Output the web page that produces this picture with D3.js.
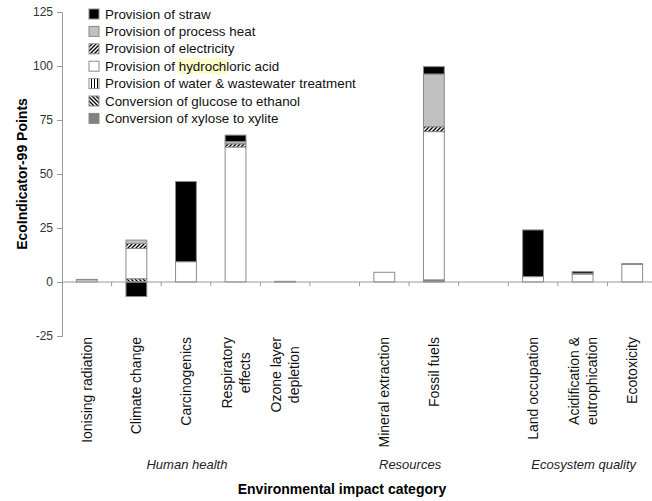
<!DOCTYPE html>
<html>
<head>
<meta charset="utf-8">
<script src="https://cdn.jsdelivr.net/npm/d3@7"></script>
<style>
  body { margin: 0; background: #fff; }
  text { font-family: "Liberation Sans", Arial, sans-serif; }
</style>
</head>
<body>
<svg id="chart" width="652" height="501"></svg>
<script>
// categories (blank entries are the gaps between groups)
const categories = ['Ionising radiation', 'Climate change', 'Carcinogenics', 'Respiratory effects',
    'Ozone layer depletion', 'gap1', 'Mineral extraction', 'Fossil fuels', 'gap2',
    'Land occupation', 'Acidification & eutrophication', 'Ecotoxicity'];
const labelLines = [['Ionising radiation'], ['Climate change'], ['Carcinogenics'], ['Respiratory', 'effects'],
    ['Ozone layer', 'depletion'], [], ['Mineral extraction'], ['Fossil fuels'], [],
    ['Land occupation'], ['Acidification &', 'eutrophication'], ['Ecotoxicity']];
const groups = [
    {name: 'Human health', from: 'Ionising radiation', to: 'Ozone layer depletion'},
    {name: 'Resources', from: 'Mineral extraction', to: 'Fossil fuels'},
    {name: 'Ecosystem quality', from: 'Land occupation', to: 'Ecotoxicity'}
];

// series values, one per category
const straw       = [0, -6.7, 37.1, 3.0, 0, 0, 0, 3.4, 0, 21.6, 0.8, 0];
const heat        = [0, 1.5, 0, 1.0, 0.2, 0, 0, 24.4, 0, 0, 0, 0];
const electricity = [0.2, 2.3, 0, 1.5, 0, 0, 0, 2.3, 0, 0, 0.3, 0.3];
const hcl         = [1.0, 14.1, 9.4, 62.5, 0.1, 0, 4.5, 68.6, 0, 2.5, 3.7, 8.2];
const water       = [0, 0, 0, 0, 0, 0, 0, 0, 0, 0, 0, 0];
const glucose     = [0, 1.5, 0, 0, 0, 0, 0, 0, 0, 0, 0, 0];
const xylose      = [0, 0, 0, 0, 0, 0, 0, 1.0, 0, 0, 0, 0];

const series = [
    {key: 'straw', label: 'Provision of straw', values: straw, fill: '#000'},
    {key: 'heat', label: 'Provision of process heat', values: heat, fill: '#c0c0c0'},
    {key: 'electricity', label: 'Provision of electricity', values: electricity, fill: 'url(#hatchFwd)'},
    {key: 'hcl', label: 'Provision of hydrochloric acid', values: hcl, fill: '#fff'},
    {key: 'water', label: 'Provision of water & wastewater treatment', values: water, fill: 'url(#hatchVert)'},
    {key: 'glucose', label: 'Conversion of glucose to ethanol', values: glucose, fill: 'url(#hatchBack)'},
    {key: 'xylose', label: 'Conversion of xylose to xylite', values: xylose, fill: '#808080'}
];
const yTicks = [-25, 0, 25, 50, 75, 100, 125];

const svg = d3.select('#chart');
const axisColor = '#999';

// patterns for the hatched series
const defs = svg.append('defs');
function hatch(id, d, w, size) {
    const p = defs.append('pattern').attr('id', id)
        .attr('patternUnits', 'userSpaceOnUse').attr('width', size).attr('height', size);
    p.append('rect').attr('width', size).attr('height', size).attr('fill', '#fff');
    p.append('path').attr('d', d).attr('stroke', '#000').attr('stroke-width', w);
}
hatch('hatchFwd', 'M-1,1 l2,-2 M0,4 l4,-4 M3,5 l2,-2', 1.3, 4);
hatch('hatchBack', 'M-1,3 l2,2 M0,0 l4,4 M3,-1 l2,2', 1.3, 4);
hatch('hatchVert', 'M1.5,0 v3', 1, 3);

const x = d3.scaleBand().domain(categories).range([62, 657]).paddingInner(0.58).paddingOuter(0.29);
const y = d3.scaleLinear().domain([-25, 125]).range([336, 12]);

// y axis
const yAxis = svg.append('g').attr('transform', 'translate(62,0)')
    .call(d3.axisLeft(y).tickValues(yTicks).tickFormat(d => String(d)).tickSize(5).tickPadding(4));
yAxis.select('.domain').attr('stroke', axisColor);
yAxis.selectAll('.tick line').attr('stroke', axisColor);
yAxis.selectAll('.tick text').attr('fill', '#333').style('font-size', '12px')
    .style('font-family', '"Liberation Sans", Arial, sans-serif');

// stacked bars
const rows = categories.map((c, i) => {
    const r = {category: c};
    series.forEach(s => r[s.key] = s.values[i]);
    return r;
});
const stackOrder = ['xylose', 'glucose', 'water', 'hcl', 'electricity', 'heat', 'straw'];
const stacked = d3.stack().keys(stackOrder).offset(d3.stackOffsetDiverging)(rows);
const fillOf = Object.fromEntries(series.map(s => [s.key, s.fill]));

svg.append('g').selectAll('g').data(stacked).join('g')
    .attr('fill', d => fillOf[d.key])
    .selectAll('rect').data(d => d.filter(v => v[1] !== v[0])).join('rect')
    .attr('x', d => x(d.data.category))
    .attr('width', x.bandwidth())
    .attr('y', d => y(Math.max(d[0], d[1])))
    .attr('height', d => Math.abs(y(d[0]) - y(d[1])))
    .attr('stroke', '#8a8a8a')
    .attr('stroke-width', 1);

// x axis line at zero with ticks between categories
svg.append('line').attr('x1', 62).attr('x2', 652).attr('y1', y(0)).attr('y2', y(0))
    .attr('stroke', axisColor);
const boundaries = categories.slice(1).map(c => x(c) - x.step() * x.paddingInner() / 2);
svg.append('g').selectAll('line').data(boundaries).join('line')
    .attr('x1', d => d).attr('x2', d => d)
    .attr('y1', y(0)).attr('y2', y(0) + 4)
    .attr('stroke', axisColor);

// category labels, rotated
const lineH = 18;
const labels = svg.append('g');
categories.forEach((c, i) => {
    const lines = labelLines[i];
    if (!lines.length) return;
    const cx = x(c) + x.bandwidth() / 2;
    const g = labels.append('g').attr('transform', `translate(${cx},337) rotate(-90)`);
    const t = g.append('text').style('font-size', '14px').attr('fill', '#111');
    lines.forEach((ln, j) => {
        t.append('tspan').attr('x', 0)
            .attr('y', (j - (lines.length - 1) / 2) * lineH + 5)
            .text(ln);
    });
    // top-align the block, centre the lines inside it
    const widths = t.selectAll('tspan').nodes().map(n => n.getComputedTextLength());
    const w = d3.max(widths);
    t.selectAll('tspan').attr('x', (d, j, n) => -(w + widths[j]) / 2)
        .attr('text-anchor', 'start');
});

// group labels
groups.forEach(gr => {
    const cx = (x(gr.from) + x(gr.to) + x.bandwidth()) / 2;
    svg.append('text').attr('x', cx + 1).attr('y', 469).attr('text-anchor', 'middle')
        .style('font-size', '13px').style('font-style', 'italic').attr('fill', '#222')
        .text(gr.name);
});

// axis titles
svg.append('text').attr('x', 342).attr('y', 494).attr('text-anchor', 'middle')
    .style('font-size', '14px').style('font-weight', 'bold').text('Environmental impact category');
svg.append('text').attr('transform', `translate(27,${y(50)}) rotate(-90)`).attr('text-anchor', 'middle')
    .style('font-size', '14px').style('font-weight', 'bold').text('EcoIndicator-99 Points');

// legend
const legend = svg.append('g');
series.forEach((s, i) => {
    const ly = 14 + i * 17.4;
    legend.append('rect').attr('x', 89).attr('y', ly - 5).attr('width', 10).attr('height', 10)
        .attr('fill', s.fill).attr('stroke', '#8a8a8a');
    const t = legend.append('text').attr('x', 105).attr('y', ly + 4.5)
        .style('font-size', '13.4px').attr('fill', '#111').text(s.label);
    if (s.key === 'hcl') {
        // the yellow highlight over "hydroch" in the source
        const node = t.node();
        const start = s.label.indexOf('hydroch');
        const sx = node.getStartPositionOfChar(start).x;
        const sw = node.getSubStringLength(start, 7);
        legend.insert('rect', 'text').attr('x', sx - 1).attr('y', ly - 8).attr('width', sw + 2).attr('height', 16)
            .attr('fill', '#fcfcc8');
    }
});
</script>
</body>
</html>
